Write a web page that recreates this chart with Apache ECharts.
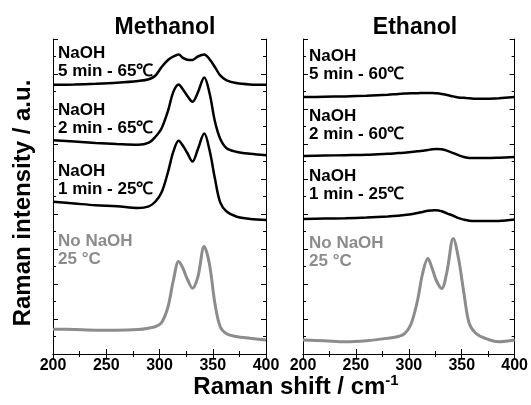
<!DOCTYPE html>
<html>
<head>
<meta charset="utf-8">
<script src="https://cdn.jsdelivr.net/npm/echarts@6/dist/echarts.min.js"></script>
<style>
html,body{margin:0;padding:0;background:#fff;}
#chart{width:531px;height:405px;}
</style>
</head>
<body>
<div id="chart"></div>
<script>
// Raman shift positions (cm-1), shared by all traces
const shifts = [200, 220, 240, 260, 280, 290, 296, 302, 308, 313, 318, 322, 326, 331, 336, 342, 347, 352, 357, 363, 372, 385, 400];

// Methanol panel (offset intensities, a.u.)
const meNoNaOH = [0.71, 0.70, 0.68, 0.68, 0.70, 0.74, 0.78, 0.90, 1.35, 2.10, 2.64, 2.45, 2.15, 1.88, 2.20, 3.07, 2.55, 1.45, 0.78, 0.58, 0.50, 0.45, 0.40];
const me1min25 = [4.35, 4.30, 4.25, 4.22, 4.17, 4.22, 4.35, 4.62, 5.20, 5.78, 6.09, 5.95, 5.75, 5.50, 5.85, 6.30, 5.82, 5.02, 4.33, 4.07, 3.93, 3.86, 3.83];
const me2min65 = [6.11, 6.07, 6.03, 6.00, 5.98, 6.04, 6.20, 6.45, 6.95, 7.49, 7.70, 7.56, 7.38, 7.21, 7.47, 7.90, 7.45, 6.65, 6.15, 5.88, 5.78, 5.72, 5.68];
const me5min65 = [7.69, 7.70, 7.72, 7.75, 7.80, 7.85, 7.95, 8.20, 8.40, 8.50, 8.56, 8.46, 8.41, 8.40, 8.50, 8.56, 8.42, 8.20, 7.96, 7.82, 7.74, 7.70, 7.69];

// Ethanol panel
const etNoNaOH = [0.40, 0.38, 0.35, 0.38, 0.45, 0.50, 0.58, 0.85, 1.50, 2.30, 2.73, 2.45, 2.10, 1.87, 2.35, 3.30, 2.72, 1.75, 0.88, 0.60, 0.45, 0.35, 0.40];
const et1min25 = [3.86, 3.87, 3.88, 3.90, 3.93, 3.95, 3.97, 3.99, 4.03, 4.06, 4.09, 4.10, 4.11, 4.08, 4.02, 3.95, 3.88, 3.84, 3.81, 3.80, 3.80, 3.80, 3.84];
const et2min60 = [5.66, 5.67, 5.68, 5.69, 5.72, 5.74, 5.75, 5.77, 5.79, 5.81, 5.83, 5.85, 5.86, 5.85, 5.81, 5.74, 5.68, 5.63, 5.60, 5.60, 5.60, 5.61, 5.63];
const et5min60 = [7.34, 7.35, 7.36, 7.38, 7.41, 7.43, 7.44, 7.45, 7.45, 7.46, 7.46, 7.46, 7.45, 7.43, 7.40, 7.36, 7.33, 7.32, 7.31, 7.29, 7.29, 7.31, 7.34];

// Axis ticks
const xTicks = [200, 250, 300, 350, 400];

const panelTitles = ['Methanol', 'Ethanol'];
const labelsMe = ['NaOH\n5 min - 65℃', 'NaOH\n2 min - 65℃', 'NaOH\n1 min - 25℃', 'No NaOH\n25 °C'];
const labelsEt = ['NaOH\n5 min - 60℃', 'NaOH\n2 min - 60℃', 'NaOH\n1 min - 25℃', 'No NaOH\n25 °C'];

const FONT = '"Liberation Sans", Arial, sans-serif';
const BLACK = '#000';
const GRAY = '#8c8c8c';

function pairs(ys) { return shifts.map((x, i) => [x, ys[i]]); }

function xAx(grid, pos, showLabel) {
  return {
    type: 'value', gridIndex: grid, position: pos, min: 200, max: 400, interval: 50,
    axisLine: { show: true, lineStyle: { color: BLACK, width: 1 } },
    axisTick: { show: true, inside: true, length: 5, lineStyle: { color: BLACK } },
    minorTick: { show: true, splitNumber: 2, length: 3, lineStyle: { color: BLACK } },
    splitLine: { show: false },
    axisLabel: {
      show: showLabel, margin: 4, color: BLACK, fontFamily: FONT, fontWeight: 'bold', fontSize: 16,
      formatter: v => (xTicks.indexOf(v) >= 0 ? String(v) : '')
    }
  };
}
function yAx(grid, pos) {
  return {
    type: 'value', gridIndex: grid, position: pos, min: 0, max: 9, interval: 1,
    axisLine: { show: true, lineStyle: { color: BLACK, width: 1 } },
    axisTick: { show: true, inside: true, length: 5, lineStyle: { color: BLACK } },
    minorTick: { show: true, splitNumber: 2, length: 3, lineStyle: { color: BLACK } },
    splitLine: { show: false },
    axisLabel: { show: false }
  };
}
function line(ys, xi, yi, color, w) {
  return {
    type: 'line', xAxisIndex: xi, yAxisIndex: yi, data: pairs(ys),
    showSymbol: false, smooth: 0.35, animation: false,
    lineStyle: { color: color, width: w }
  };
}
function textEl(x, y, str, color, size, extra) {
  return Object.assign({
    type: 'text', x: x, y: y,
    style: { text: str, fill: color, font: 'bold ' + size + 'px ' + FONT, lineHeight: 18 }
  }, extra || {});
}

const chart = echarts.init(document.getElementById('chart'), null, { renderer: 'canvas' });

const labelTopsMe = [44, 101, 162, 232];
const labelTopsEt = [47, 107, 167, 234];

const graphics = [];
labelsMe.forEach((t, i) => graphics.push(textEl(58, labelTopsMe[i], t, i === 3 ? GRAY : BLACK, 17)));
labelsEt.forEach((t, i) => graphics.push(textEl(309, labelTopsEt[i], t, i === 3 ? GRAY : BLACK, 17)));
graphics.push({
  type: 'text', x: 296, y: 387,
  style: {
    text: '{n|Raman shift / cm}{s|-1}', fill: BLACK, align: 'center', verticalAlign: 'middle',
    rich: {
      n: { font: 'bold 24px ' + FONT, fill: BLACK },
      s: { font: 'bold 15px ' + FONT, fill: BLACK, verticalAlign: 'top', padding: [0, 0, 12, 0] }
    }
  }
});
graphics.push({
  type: 'text', x: 23, y: 203, rotation: Math.PI / 2,
  style: { text: 'Raman intensity / a.u.', fill: BLACK, font: 'bold 24px ' + FONT, align: 'center', verticalAlign: 'middle' }
});

chart.setOption({
  backgroundColor: '#fff',
  animation: false,
  title: [
    { text: panelTitles[0], left: 160, top: 11, textAlign: 'center', textStyle: { fontFamily: FONT, fontWeight: 'bold', fontSize: 23, color: BLACK } },
    { text: panelTitles[1], left: 410, top: 11, textAlign: 'center', textStyle: { fontFamily: FONT, fontWeight: 'bold', fontSize: 23, color: BLACK } }
  ],
  grid: [
    { left: 53, right: 265, top: 39, bottom: 51 },
    { left: 303, right: 15, top: 39, bottom: 51 }
  ],
  xAxis: [xAx(0, 'bottom', true), xAx(0, 'top', false), xAx(1, 'bottom', true), xAx(1, 'top', false)],
  yAxis: [yAx(0, 'left'), yAx(0, 'right'), yAx(1, 'left'), yAx(1, 'right')],
  series: [
    line(meNoNaOH, 0, 0, GRAY, 3),
    line(me1min25, 0, 0, BLACK, 2.5),
    line(me2min65, 0, 0, BLACK, 2.5),
    line(me5min65, 0, 0, BLACK, 2.5),
    line(etNoNaOH, 2, 2, GRAY, 3),
    line(et1min25, 2, 2, BLACK, 2.5),
    line(et2min60, 2, 2, BLACK, 2.5),
    line(et5min60, 2, 2, BLACK, 2.5)
  ],
  graphic: graphics
});
</script>
</body>
</html>
